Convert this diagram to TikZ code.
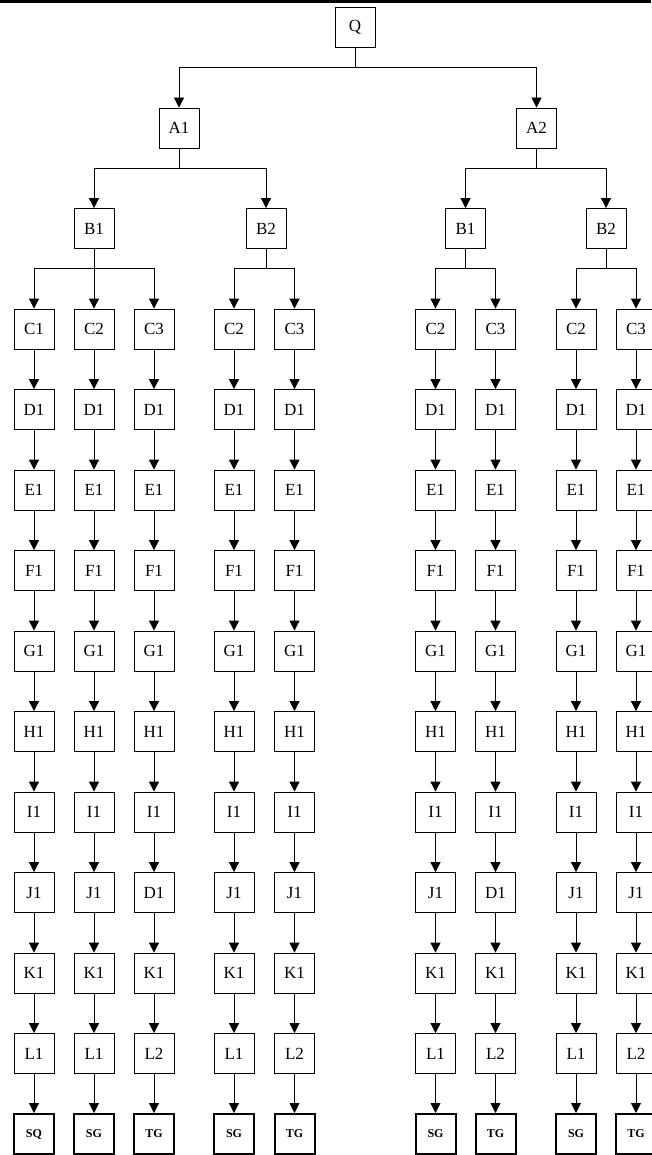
\documentclass[tikz,border=0pt]{standalone}
\usepackage{fontspec}
\setmainfont{Liberation Serif}
\usetikzlibrary{arrows.meta}
\newcommand\mkcol[6]{%
  \node[box] (#1c) at (#2,329) {#3};
  \node[box] (#1d) at (#2,409.5) {D1};
  \node[box] (#1e) at (#2,490) {E1};
  \node[box] (#1f) at (#2,570.5) {F1};
  \node[box] (#1g) at (#2,651) {G1};
  \node[box] (#1h) at (#2,731.5) {H1};
  \node[box] (#1i) at (#2,812) {I1};
  \node[box] (#1j) at (#2,892.5) {#4};
  \node[box] (#1k) at (#2,973) {K1};
  \node[box] (#1l) at (#2,1053.5) {#5};
  \node[endbox] (#1s) at (#2,1134) {#6};
  \foreach \a/\b in {c/d,d/e,e/f,f/g,g/h,h/i,i/j,j/k,k/l,l/s}
    \draw[arr] (#1\a) -- (#1\b);
}
\begin{document}
\begin{tikzpicture}[x=1pt,y=-1pt,
  box/.style={draw, line width=0.8pt, minimum width=40pt, minimum height=40pt, inner sep=0pt, font=\fontsize{17}{20}\selectfont},
  endbox/.style={box, line width=2pt, font=\fontsize{12}{14}\selectfont\bfseries},
  arr/.style={-{Triangle[width=10pt,length=10pt]}, line width=0.8pt}]
\useasboundingbox (0,0) rectangle (651,1155);
\fill[white] (0,0) rectangle (651,1155);
\draw[line width=3pt] (0,1.5) -- (651,1.5);

\node[box] (Q) at (355,27.5) {Q};
\node[box] (A1) at (179,128) {A1};
\node[box] (A2) at (536.5,128) {A2};
\node[box] (B1L) at (94,228.5) {B1};
\node[box] (B2L) at (266,228.5) {B2};
\node[box] (B1R) at (465.5,228.5) {B1};
\node[box] (B2R) at (606,228.5) {B2};

\mkcol{p}{34}{C1}{J1}{L1}{SQ}
\mkcol{q}{94}{C2}{J1}{L1}{SG}
\mkcol{r}{154}{C3}{D1}{L2}{TG}
\mkcol{s}{234}{C2}{J1}{L1}{SG}
\mkcol{t}{294.5}{C3}{J1}{L2}{TG}
\mkcol{u}{435.5}{C2}{J1}{L1}{SG}
\mkcol{v}{495.5}{C3}{D1}{L2}{TG}
\mkcol{w}{576}{C2}{J1}{L1}{SG}
\mkcol{x}{636}{C3}{J1}{L2}{TG}

\draw[arr] (Q.south) -- ++(0,20) -| (A1);
\draw[arr] (Q.south) -- ++(0,20) -| (A2);
\draw[arr] (A1.south) -- ++(0,20) -| (B1L);
\draw[arr] (A1.south) -- ++(0,20) -| (B2L);
\draw[arr] (A2.south) -- ++(0,20) -| (B1R);
\draw[arr] (A2.south) -- ++(0,20) -| (B2R);
\draw[arr] (B1L.south) -- ++(0,20) -| (pc);
\draw[arr] (B1L.south) -- (qc);
\draw[arr] (B1L.south) -- ++(0,20) -| (rc);
\draw[arr] (B2L.south) -- ++(0,20) -| (sc);
\draw[arr] (B2L.south) -- ++(0,20) -| (tc);
\draw[arr] (B1R.south) -- ++(0,20) -| (uc);
\draw[arr] (B1R.south) -- ++(0,20) -| (vc);
\draw[arr] (B2R.south) -- ++(0,20) -| (wc);
\draw[arr] (B2R.south) -- ++(0,20) -| (xc);
\end{tikzpicture}
\end{document}
